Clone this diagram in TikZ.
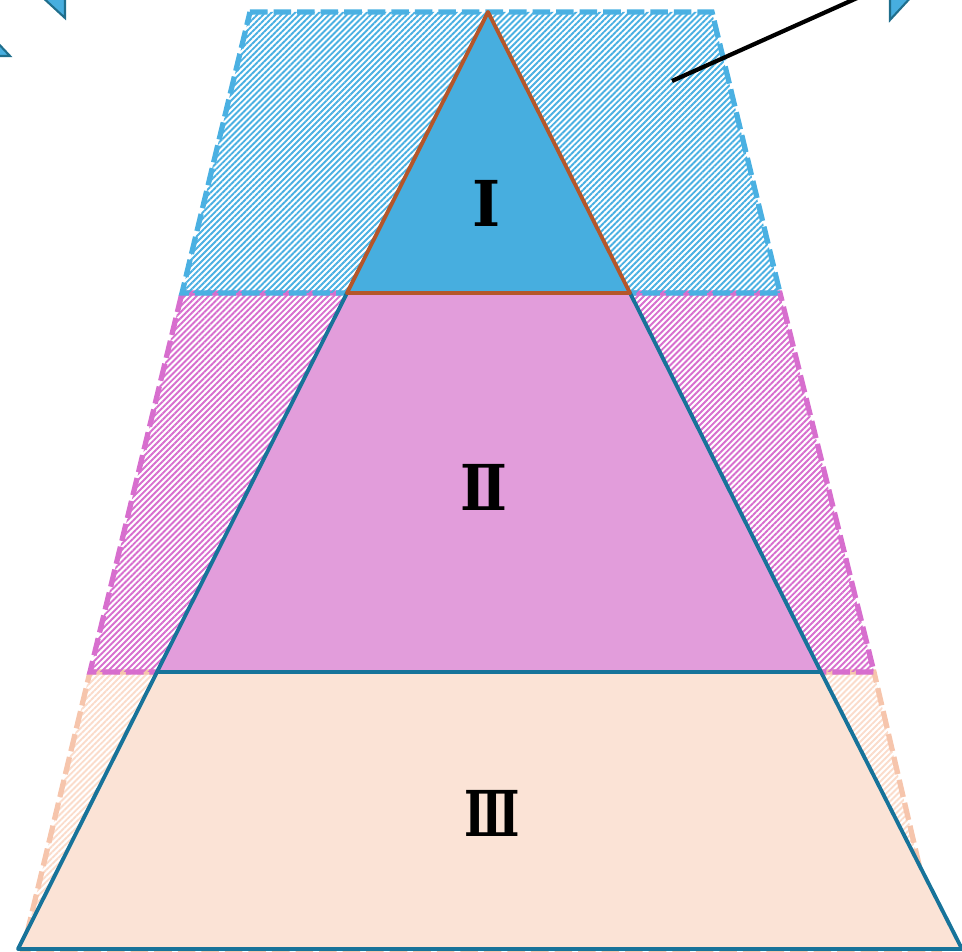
\documentclass[tikz,border=0pt]{standalone}
\usepackage{fontspec}
\newfontfamily\romFont{DejaVu Serif}
\usetikzlibrary{patterns.meta}
\definecolor{topCol}{HTML}{47AEDF}
\definecolor{topEdge}{HTML}{4AB0E2}
\definecolor{midCol}{HTML}{E29DDB}
\definecolor{midEdge}{HTML}{D76ECE}
\definecolor{lowCol}{HTML}{FBE3D6}
\definecolor{lowEdge}{HTML}{F6C5AC}
\definecolor{lowHatch}{HTML}{FBDCCB}
\definecolor{triEdge}{HTML}{17739A}
\definecolor{apexEdge}{HTML}{B5562A}
\definecolor{fragEdge}{HTML}{1F6E8C}

\begin{document}
\begin{tikzpicture}[x=0.1mm,y=-0.1mm]
  \tikzset{band/.style n args={2}{draw=#1,dash pattern=on 5pt off 1.7pt,line width=1.5pt,
        pattern={Lines[angle=45,distance=1.2pt,line width=0.55pt]},pattern color=#2},
    zone/.style n args={2}{fill=#1,draw=#2,line width=1.1pt,line join=round},
    frag/.style={fill=topCol,draw=fragEdge,line width=0.6pt},
    lbl/.style={font=\romFont\bfseries\fontsize{18}{18}\selectfont,inner sep=0pt}}
  \useasboundingbox (0,0) rectangle (962,952);
  \clip (0,0) rectangle (962,952);
  \coordinate (oA) at (250,12);  \coordinate (oB) at (712,12);
  \coordinate (oC) at (182,293); \coordinate (oD) at (780,293);
  \coordinate (oE) at (90,672);  \coordinate (oF) at (874,672);
  \coordinate (oG) at (23,950);  \coordinate (oH) at (939,950);
  \coordinate (apex) at (488,12);
  \coordinate (tL) at (347,293); \coordinate (tR) at (630,293);
  \coordinate (mL) at (157,672); \coordinate (mR) at (821,672);
  \coordinate (bL) at (18,949);  \coordinate (bR) at (962,949);
  \draw[band={lowEdge}{lowHatch}] (oE) -- (oF) -- (oH) -- (oG) -- cycle;
  \draw[band={midEdge}{midEdge}] (oC) -- (oD) -- (oF) -- (oE) -- cycle;
  \draw[band={topEdge}{topEdge}] (oA) -- (oB) -- (oD) -- (oC) -- cycle;
  \draw[zone={lowCol}{triEdge}] (mL) -- (mR) -- (bR) -- (bL) -- cycle;
  \draw[zone={midCol}{triEdge}] (tL) -- (tR) -- (mR) -- (mL) -- cycle;
  \draw[zone={topCol}{apexEdge}] (apex) -- (tR) -- (tL) -- cycle;
  \node[lbl] (lblI) at (487,203) {\scalebox{0.95}[1]{Ⅰ}};
  \node[lbl] (lblII) at (484,487) {\scalebox{0.88}[1]{Ⅱ}};
  \node[lbl] (lblIII) at (492,813) {\scalebox{0.72}[1]{Ⅲ}};
  \draw[frag] (40,-5) -- (65,18) -- (65,-5) -- cycle;
  \draw[frag] (-5,40) -- (10,56) -- (-5,56) -- cycle;
  \draw[frag] (890,-5) -- (890,20) -- (913,-5) -- cycle;
  \coordinate (pinEnd) at (672,81);
  \coordinate (pinOut) at (875,-10);
  \draw[line width=1.2pt] (pinEnd) -- (pinOut);
\end{tikzpicture}
\end{document}
